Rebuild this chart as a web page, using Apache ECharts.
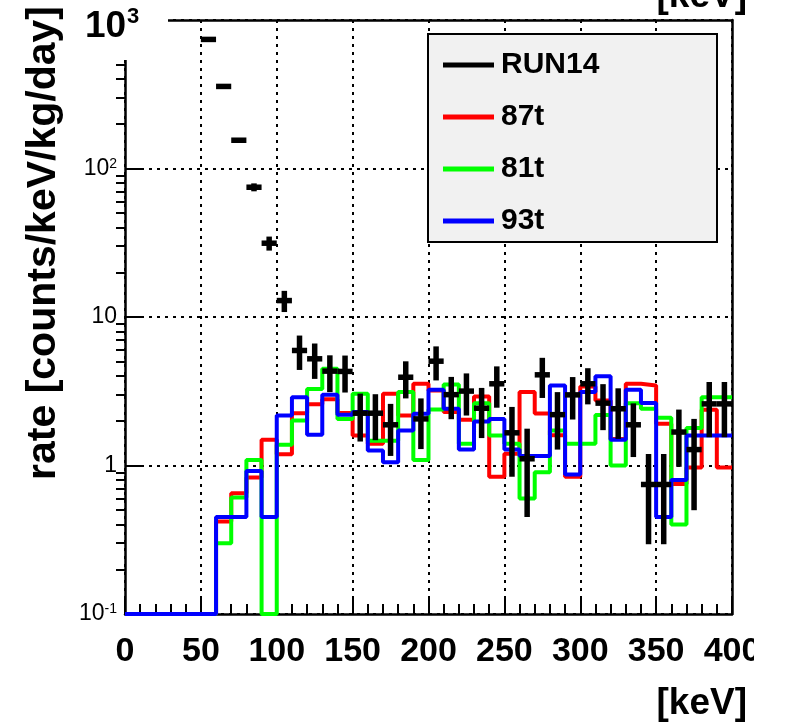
<!DOCTYPE html>
<html>
<head>
<meta charset="utf-8">
<title>rate spectrum</title>
<script src="https://cdn.jsdelivr.net/npm/echarts@6/dist/echarts.min.js"></script>
<style>
html,body{margin:0;padding:0;background:#fff;}
#main{width:794px;height:725px;}
</style>
</head>
<body>
<div id="main"></div>
<script>
// bins [keV], 10 keV wide
var binLow = [0,10,20,30,40,50,60,70,80,90,100,110,120,130,140,150,160,170,180,190,
              200,210,220,230,240,250,260,270,280,290,300,310,320,330,340,350,360,370,380,390];
var binWidth = 10;
var xMax = 400;

// simulation histograms (0.1 = empty bin, drawn on the floor)
var rate87t = [0.1,0.1,0.1,0.1,0.1,0.1,0.42,0.65,0.83,1.49,1.19,2.25,2.58,2.79,2.26,1.59,1.40,3.04,2.17,3.55,
               3.2,2.29,2.03,2.92,0.84,1.2,3.12,2.24,1.6,0.84,3.4,2.74,1.51,3.55,3.46,1.91,0.75,0.97,2.37,0.97];
var rate81t = [0.1,0.1,0.1,0.1,0.1,0.1,0.30,0.61,1.09,0.1,1.38,2.01,3.28,4.48,2.06,3.04,1.47,1.47,3.12,1.09,
               2.38,3.51,1.4,2.63,1.59,1.4,0.6,0.9,1.72,1.4,1.4,2.19,1.0,2.63,2.41,2.1,0.4,1.79,2.88,2.88];
var rate93t = [0.1,0.1,0.1,0.1,0.1,0.1,0.45,0.45,0.92,0.45,2.17,2.88,1.61,3.0,2.2,2.29,1.26,1.05,1.72,2.23,
               3.24,2.41,1.28,1.98,2.06,1.28,1.16,1.16,3.46,0.87,3.12,3.99,1.49,3.24,2.64,0.45,0.8,1.59,1.59,1.59];

// RUN14 data points
var runCenter = [55,65,75,85,95,105,115,125,135,145,155,165,175,185,195,205,215,225,235,245,
                 255,265,275,285,295,305,315,325,335,345,355,365,375,385,395];
var runRate = [740,357,155,74.8,31.4,12.9,5.95,5.23,4.32,4.3,2.25,2.25,1.88,3.93,2.06,5.04,3.0,3.17,2.43,3.55,
               1.66,1.11,4.08,2.2,2.99,3.55,2.63,2.41,1.88,0.745,0.745,1.68,1.28,2.6,2.6];
var runErr = [12,8,5,4.6,3.4,2.1,1.55,1.4,1.2,1.2,0.8,0.77,0.72,1.1,0.77,1.3,0.95,1.0,0.9,1.1,
              0.82,0.66,1.23,0.92,0.95,0.97,0.9,0.9,0.74,0.45,0.45,0.7,0.78,1.05,1.05];

var yMinorTicks = [0.2,0.3,0.4,0.5,0.6,0.7,0.8,0.9, 2,3,4,5,6,7,8,9,
                   20,30,40,50,60,70,80,90, 200,300,400,500,600,700,800,900];

var FONT = '"Liberation Sans", Arial, sans-serif';

function histPoints(vals) {
    var pts = [];
    for (var i = 0; i < binLow.length; i++) {
        pts.push([binLow[i], vals[i]]);
    }
    pts.push([xMax, vals[vals.length - 1]]);
    return pts;
}

var runData = [];
for (var i = 0; i < runCenter.length; i++) {
    runData.push([runCenter[i], runRate[i], runErr[i]]);
}

function renderErr(params, api) {
    var x = api.value(0), y = api.value(1), e = api.value(2);
    var pL = api.coord([x - binWidth / 2, y]);
    var pR = api.coord([x + binWidth / 2, y]);
    var pT = api.coord([x, y + e]);
    var pB = api.coord([x, y - e]);
    var st = {stroke: '#000', lineWidth: 5.5, lineCap: 'butt'};
    return {
        type: 'group',
        children: [
            {type: 'line', shape: {x1: pL[0], y1: pL[1], x2: pR[0], y2: pR[1]}, style: st},
            {type: 'line', shape: {x1: pT[0], y1: pT[1], x2: pB[0], y2: pB[1]}, style: st}
        ]
    };
}

function histSeries(name, vals, color, z) {
    return {
        name: name,
        type: 'line',
        step: 'end',
        data: histPoints(vals),
        showSymbol: false,
        clip: false,
        z: z,
        color: color,
        lineStyle: {color: color, width: 4}
    };
}

function yLabel(v) {
    var p = Math.round(Math.log10(v));
    if (p >= 3) return '';
    if (p === 0) return '{b|1}';
    if (p === 1) return '{b|10}';
    return '{b|10}{s|' + p + '}';
}

var chart = echarts.init(document.getElementById('main'));
var gridDash = {color: '#000', type: [3, 5], width: 2};

var option = {
    animation: false,
    backgroundColor: '#fff',
    grid: {left: 125, right: 62, top: 20, bottom: 111},
    xAxis: [
        {
            type: 'value', min: 0, max: xMax, interval: 50,
            axisLine: {onZero: false, lineStyle: {color: '#000', width: 2.5}},
            axisTick: {inside: true, length: 15, lineStyle: {color: '#000', width: 2}},
            minorTick: {show: true, splitNumber: 5, length: 10, lineStyle: {color: '#000', width: 2}},
            axisLabel: {show: false},
            splitLine: {show: true, lineStyle: gridDash}
        },
        {
            type: 'value', position: 'top', min: 0, max: xMax,
            axisLine: {onZero: false, lineStyle: {color: '#000', width: 2.5}},
            axisTick: {show: false}, axisLabel: {show: false}, splitLine: {show: false}
        },
        {
            type: 'value', position: 'bottom', min: 0, max: xMax, interval: 50, z: 60,
            axisLine: {show: false}, axisTick: {show: false}, splitLine: {show: false},
            axisLabel: {margin: 21, color: '#000', fontFamily: FONT, fontWeight: 'bold', fontSize: 34}
        }
    ],
    yAxis: [
        {
            type: 'log', logBase: 10, min: 0.1, max: 1000,
            axisLine: {onZero: false, lineStyle: {color: '#000', width: 2.5}},
            axisTick: {inside: true, length: 16, lineStyle: {color: '#000', width: 2}},
            splitLine: {show: true, lineStyle: gridDash},
            axisLabel: {
                margin: 8, formatter: yLabel,
                rich: {
                    b: {fontFamily: FONT, fontSize: 23, lineHeight: 23, color: '#000'},
                    s: {fontFamily: FONT, fontSize: 14, lineHeight: 23, color: '#000', verticalAlign: 'top'}
                }
            }
        },
        {
            type: 'log', logBase: 10, min: 0.1, max: 1000,
            axisLine: {show: false}, axisLabel: {show: false}, splitLine: {show: false},
            axisTick: {inside: true, length: 9, customValues: yMinorTicks, lineStyle: {color: '#000', width: 2}}
        },
        {
            type: 'log', logBase: 10, min: 0.1, max: 1000, position: 'right',
            axisLine: {onZero: false, lineStyle: {color: '#000', width: 2.5}},
            axisTick: {show: false}, axisLabel: {show: false}, splitLine: {show: false}
        }
    ],
    legend: {
        orient: 'vertical', left: 438, top: 45, z: 10,
        itemWidth: 51, itemHeight: 5, itemGap: 22, icon: 'rect',
        selectedMode: false,
        textStyle: {fontFamily: FONT, fontWeight: 'bold', fontSize: 30, lineHeight: 30, color: '#000', padding: [0, 0, 0, 2]},
        data: [
            {name: 'RUN14', itemStyle: {color: '#000'}},
            {name: '87t', itemStyle: {color: '#ff0000'}},
            {name: '81t', itemStyle: {color: '#00ff00'}},
            {name: '93t', itemStyle: {color: '#0000ff'}}
        ]
    },
    graphic: [
        {type: 'rect', z: 5, shape: {x: 428, y: 34, width: 289, height: 208},
         style: {fill: '#f1f1f1', stroke: '#000', lineWidth: 2}},
        {type: 'rect', z: 50, shape: {x: 0, y: 0, width: 168, height: 60}, style: {fill: '#fff'}},
        {type: 'rect', z: 50, shape: {x: 0, y: 624, width: 794, height: 101}, style: {fill: '#fff'}},
        {type: 'rect', z: 70, shape: {x: 754, y: 624, width: 40, height: 101}, style: {fill: '#fff'}},
        {type: 'text', z: 80, x: 44, y: 243, rotation: Math.PI / 2,
         style: {text: 'rate [counts/keV/kg/day]', font: 'bold 41px ' + FONT, fill: '#000', align: 'center', verticalAlign: 'middle'}},
        {type: 'text', z: 80, x: 85, y: 8,
         style: {text: '10', font: 'bold 37px ' + FONT, fill: '#000'}},
        {type: 'text', z: 80, x: 127, y: 6,
         style: {text: '3', font: 'bold 22px ' + FONT, fill: '#000'}},
        {type: 'text', z: 80, x: 747, y: 704,
         style: {text: '[keV]', font: 'bold 37px ' + FONT, fill: '#000', align: 'right', verticalAlign: 'middle'}},
        {type: 'text', z: 80, x: 747, y: -3,
         style: {text: '[keV]', font: 'bold 37px ' + FONT, fill: '#000', align: 'right', verticalAlign: 'middle'}}
    ],
    series: [
        histSeries('87t', rate87t, '#ff0000', 2),
        histSeries('81t', rate81t, '#00ff00', 3),
        histSeries('93t', rate93t, '#0000ff', 4),
        {
            name: 'RUN14',
            type: 'custom',
            renderItem: renderErr,
            data: runData,
            encode: {x: 0, y: 1},
            z: 6,
            clip: false,
            itemStyle: {color: '#000'}
        }
    ]
};
chart.setOption(option);
</script>
</body>
</html>
